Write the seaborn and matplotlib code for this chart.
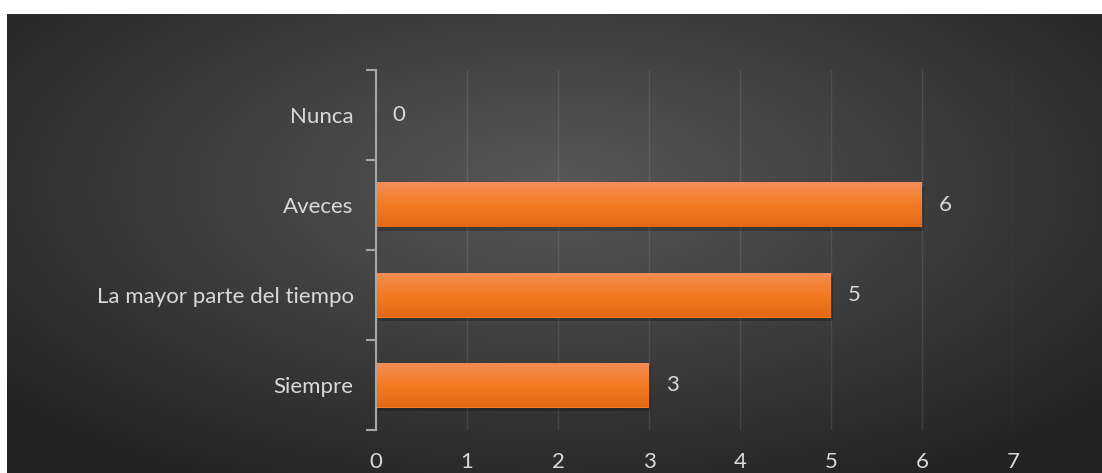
import matplotlib
matplotlib.use("Agg")
import matplotlib.pyplot as plt
import matplotlib.patheffects as pe
import seaborn as sns
import numpy as np
import pandas as pd

# --- datos ---
categorias = ["Nunca", "Aveces", "La mayor parte del tiempo", "Siempre"]
valores = [0, 6, 5, 3]
ticks_x = [0, 1, 2, 3, 4, 5, 6, 7]

df = pd.DataFrame({"categoria": categorias, "valor": valores})

W, H = 1102, 473
fig = plt.figure(figsize=(W / 100, H / 100), dpi=100)
fig.patch.set_facecolor("white")

# --- fondo con degradado radial ---
bg = fig.add_axes([7 / W, 0, 1 - 7 / W, (H - 14) / H])
yy, xx = np.mgrid[-1:1:300j, -1:1:600j]
r = np.sqrt(xx ** 2 + ((yy + 0.25) * 0.9) ** 2) / 1.35
r = np.clip(r, 0, 1)
c = (0x58 - (0x58 - 0x22) * r) / 255.0
bg.imshow(np.dstack([c, c, c]), aspect="auto", extent=[0, 1, 0, 1], interpolation="bilinear")
bg.set_axis_off()

sns.set_style("dark")
plt.rcParams["font.family"] = ["Lato", "DejaVu Sans"]

ax = fig.add_axes([376 / W, 43 / H, (1013 - 376) / W, 360 / H])
ax.patch.set_alpha(0)

sns.barplot(data=df, x="valor", y="categoria", orient="h", color="#F47B20",
            width=0.5, ax=ax, saturation=1, edgecolor="none", linewidth=0)

# degradado y sombra en las barras
t = np.linspace(0, 1, 100)[:, None, None]
top = np.array([0xF2, 0x8E, 0x58]) / 255
mid = np.array([0xF4, 0x7B, 0x22]) / 255
bot = np.array([0xE4, 0x68, 0x16]) / 255
img = np.where(t < 0.5, top + (mid - top) * (t / 0.5), mid + (bot - mid) * ((t - 0.5) / 0.5))
for p in ax.patches:
    if p.get_width() <= 0:
        continue
    p.set_path_effects([pe.SimplePatchShadow(offset=(1.5, -2.5), shadow_rgbFace="black", alpha=0.22),
                        pe.Normal()])
    x0, y0 = p.get_x(), p.get_y()
    im = ax.imshow(img, extent=[x0, x0 + p.get_width(), y0 + p.get_height(), y0],
                   aspect="auto", zorder=p.get_zorder() + 0.1, interpolation="bilinear")
    im.set_clip_path(p)

ax.set_xlim(0, 7)
ax.set_ylim(3.5, -0.5)
ax.set_xticks(ticks_x)
ax.set_xlabel("")
ax.set_ylabel("")

ax.grid(axis="x", color="white", alpha=0.1, linewidth=1)
ax.grid(axis="y", visible=False)
ax.set_axisbelow(True)

for s in ["top", "right", "bottom"]:
    ax.spines[s].set_visible(False)
ax.spines["left"].set_visible(True)
ax.spines["left"].set_color("#a6a6a6")
ax.spines["left"].set_linewidth(1.5)
ax.spines["left"].set_zorder(5)

ax.set_yticks(np.arange(-0.5, 4, 1), minor=True)
ax.tick_params(axis="y", which="minor", length=7, width=1.5, color="#a6a6a6", left=True)
ax.tick_params(axis="y", which="major", length=0, pad=16, labelsize=16, labelcolor="#d9d9d9")
ax.tick_params(axis="x", length=0, pad=16, labelsize=16, labelcolor="#d9d9d9")

for i, v in enumerate(valores):
    ax.annotate(str(v), xy=(v, i), xytext=(12, 0), textcoords="offset points",
                va="center", ha="left", fontsize=16, color="#d9d9d9")

fig.savefig("out.png", dpi=100, facecolor="white")
